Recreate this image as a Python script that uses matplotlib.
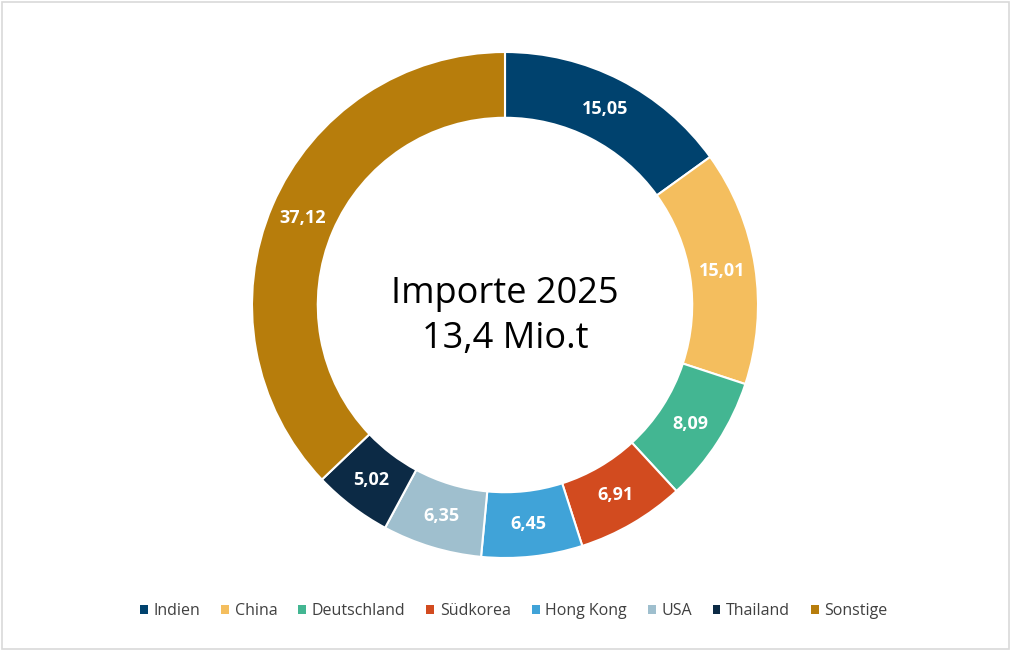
import matplotlib.pyplot as plt
import numpy as np
from matplotlib.patches import Rectangle

plt.rcParams["font.family"] = ["Open Sans", "DejaVu Sans"]

# Data
countries = ["Indien", "China", "Deutschland", "Südkorea", "Hong Kong", "USA", "Thailand", "Sonstige"]
shares = [15.05, 15.01, 8.09, 6.91, 6.45, 6.35, 5.02, 37.12]
colors = ["#00426e", "#f4be5e", "#43b692", "#d24b1f", "#40a3d8", "#9fbfce", "#0c2a45", "#b77d0c"]
center_lines = ["Importe 2025", "13,4 Mio.t"]

W, H = 1011, 652
fig = plt.figure(figsize=(W / 100, H / 100), dpi=100)
fig.patch.set_facecolor("white")

# donut axes, centre (505, 305) px from top-left, outer radius 253 px
cx, cy, R = 505, H - 305, 253
ax = fig.add_axes([(cx - R) / W, (cy - R) / H, 2 * R / W, 2 * R / H])

width = 0.26
wedges, _ = ax.pie(
    shares,
    colors=colors,
    startangle=90,
    counterclock=False,
    radius=1.0,
    wedgeprops=dict(width=width, edgecolor="white", linewidth=1.5),
)

# value labels in the ring
for w, val in zip(wedges, shares):
    ang = np.deg2rad((w.theta1 + w.theta2) / 2)
    r = 1 - width / 2
    ax.text(
        r * np.cos(ang),
        r * np.sin(ang),
        f"{val:.2f}".replace(".", ","),
        ha="center",
        va="center",
        color="white",
        fontsize=13,
        fontweight="bold",
    )

ax.text(0, -0.045, "\n".join(center_lines), ha="center", va="center",
        fontsize=26, color="black", linespacing=1.33)

ax.set_xlim(-1, 1)
ax.set_ylim(-1, 1)
ax.axis("off")

# legend below
leg = fig.legend(
    wedges,
    countries,
    loc="center",
    bbox_to_anchor=(514 / W, 1 - 611 / H),
    ncol=len(countries),
    frameon=False,
    fontsize=11.5,
    handlelength=0.5,
    handleheight=0.5,
    handletextpad=0.35,
    columnspacing=1.3,
    labelcolor="#404040",
)
for h in leg.legend_handles:
    h.set_linewidth(0)

# light frame around the chart
fig.patches.append(Rectangle((1.5 / W, 3.5 / H), (W - 4) / W, (H - 5) / H,
                             transform=fig.transFigure, fill=False,
                             edgecolor="#d9d9d9", linewidth=1.2))

fig.savefig("out.png", dpi=100)
